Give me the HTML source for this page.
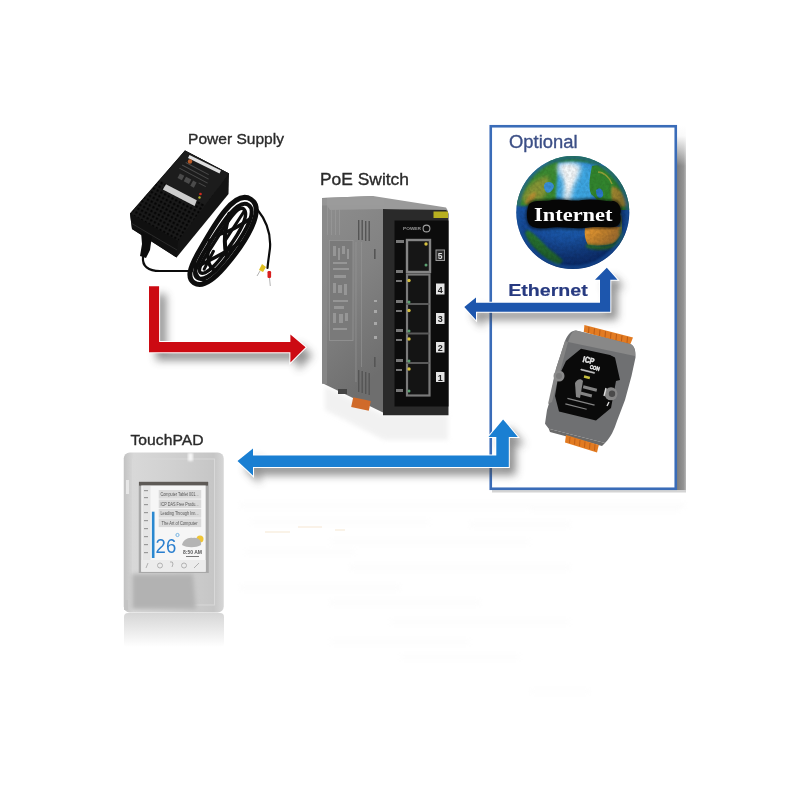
<!DOCTYPE html>
<html><head><meta charset="utf-8">
<style>
html,body{margin:0;padding:0;background:#fff;width:800px;height:800px;overflow:hidden}
svg{display:block}
text{-webkit-font-smoothing:antialiased}
</style></head>
<body>
<svg width="800" height="800" viewBox="0 0 800 800">
<defs>
  <filter id="sh" x="-30%" y="-30%" width="160%" height="160%">
    <feGaussianBlur stdDeviation="4.2"/>
  </filter>
  <filter id="sh2" x="-30%" y="-30%" width="160%" height="160%">
    <feGaussianBlur stdDeviation="2"/>
  </filter>
  <filter id="noise" x="0" y="0" width="100%" height="100%">
    <feTurbulence type="fractalNoise" baseFrequency="0.35" numOctaves="2" seed="3"/>
    <feColorMatrix values="0 0 0 0 0  0 0 0 0 0  0 0 0 0 0  0 0 0 -1.6 1.1"/>
  </filter>
  <filter id="b05"><feGaussianBlur stdDeviation="0.5"/></filter>
  <filter id="b1" x="-20%" y="-20%" width="140%" height="140%"><feGaussianBlur stdDeviation="1"/></filter>
  <filter id="b2" x="-20%" y="-20%" width="140%" height="140%"><feGaussianBlur stdDeviation="2"/></filter>
  <linearGradient id="boxsh" x1="0" y1="0" x2="0" y2="1">
    <stop offset="0" stop-color="#fff"/>
    <stop offset="0.03" stop-color="#f0f0f0"/>
    <stop offset="0.1" stop-color="#8c8c8c"/>
    <stop offset="1" stop-color="#8a8a8a"/>
  </linearGradient>
  <linearGradient id="boxshx" x1="0" y1="0" x2="1" y2="0">
    <stop offset="0" stop-color="#7c7c7c"/>
    <stop offset="0.75" stop-color="#959595"/>
    <stop offset="1" stop-color="#b8b8b8"/>
  </linearGradient>
  <linearGradient id="boxfade" x1="0" y1="0" x2="0" y2="1">
    <stop offset="0" stop-color="#fff" stop-opacity="1"/>
    <stop offset="0.25" stop-color="#fff" stop-opacity="0.95"/>
    <stop offset="1" stop-color="#fff" stop-opacity="0"/>
  </linearGradient>
  <radialGradient id="ocean" cx="0.5" cy="0.22" r="0.85">
    <stop offset="0" stop-color="#4aaee6"/>
    <stop offset="0.3" stop-color="#2a7ccc"/>
    <stop offset="0.55" stop-color="#1a56a6"/>
    <stop offset="0.85" stop-color="#123c88"/>
    <stop offset="1" stop-color="#0a2460"/>
  </radialGradient>
  <radialGradient id="gshade" cx="0.4" cy="0.3" r="0.8">
    <stop offset="0.55" stop-color="#000" stop-opacity="0"/>
    <stop offset="1" stop-color="#001040" stop-opacity="0.55"/>
  </radialGradient>
  <clipPath id="gclip"><circle cx="572.8" cy="212.6" r="56.5"/></clipPath>
  <linearGradient id="tpref" x1="0" y1="0" x2="0" y2="1">
    <stop offset="0" stop-color="#d6d6d6"/>
    <stop offset="0.5" stop-color="#eaeaea"/>
    <stop offset="1" stop-color="#fff"/>
  </linearGradient>
  <linearGradient id="tpad" x1="0" y1="0" x2="1" y2="0">
    <stop offset="0" stop-color="#c2c2c2"/>
    <stop offset="0.1" stop-color="#d8d8d8"/>
    <stop offset="0.5" stop-color="#d0d0d0"/>
    <stop offset="0.9" stop-color="#c6c6c6"/>
    <stop offset="1" stop-color="#d6d6d6"/>
  </linearGradient>
  <linearGradient id="swside" x1="0" y1="0" x2="0.3" y2="1">
    <stop offset="0" stop-color="#8e8e8e"/>
    <stop offset="0.5" stop-color="#828282"/>
    <stop offset="1" stop-color="#6e6e6e"/>
  </linearGradient>
  <pattern id="vents" width="4.2" height="4.2" patternUnits="userSpaceOnUse" patternTransform="rotate(28)">
    <rect width="4.2" height="4.2" fill="#1a1a1a"/>
    <rect x="0.6" y="0.6" width="2.4" height="2.4" fill="#050505"/>
  </pattern>
</defs>

<rect width="800" height="800" fill="#fff"/>

<!-- ghost reflections -->
<g fill="#ededed" filter="url(#b2)" opacity="0.16">
  <rect x="240" y="503" width="445" height="5"/>
  <rect x="250" y="520" width="180" height="4"/>
  <rect x="470" y="522" width="100" height="5"/>
  <rect x="245" y="550" width="110" height="4"/>
  <rect x="330" y="540" width="200" height="4"/>
  <rect x="350" y="565" width="220" height="5"/>
  <rect x="240" y="585" width="160" height="5"/>
  <rect x="330" y="600" width="150" height="5"/>
  <rect x="390" y="620" width="180" height="4"/>
  <rect x="330" y="640" width="140" height="4"/>
  <rect x="400" y="655" width="120" height="4"/>
  <rect x="530" y="690" width="60" height="3"/>
  <rect x="530" y="505" width="150" height="6"/>
</g>
<g stroke="#f2dcc0" stroke-width="1.2" opacity="0.6" filter="url(#b05)">
  <line x1="265" y1="532" x2="290" y2="532"/><line x1="298" y1="527" x2="322" y2="527"/><line x1="335" y1="530" x2="345" y2="530"/>
</g>

<!-- ===== Optional box ===== -->
<rect x="677" y="126" width="9" height="366" fill="url(#boxshx)"/><rect x="677" y="126" width="9" height="40" fill="url(#boxfade)"/>
<rect x="492" y="490" width="194" height="2.5" fill="#d4d4d4"/>
<rect x="490.75" y="126.25" width="185" height="362.5" fill="none" stroke="#3a6cb8" stroke-width="2.6"/>

<!-- labels -->
<g font-family="Liberation Sans, sans-serif" fill="#2a2a2a" stroke="#2a2a2a" stroke-width="0.35" opacity="0.999">
  <text x="188" y="144" font-size="15.5" textLength="96" lengthAdjust="spacingAndGlyphs">Power Supply</text>
  <text x="320" y="185.3" font-size="17" textLength="89" lengthAdjust="spacingAndGlyphs">PoE Switch</text>
  <text x="130.5" y="445.3" font-size="15.2" textLength="73" lengthAdjust="spacingAndGlyphs">TouchPAD</text>
  <text x="509" y="148" font-size="18" fill="#3c4f86" stroke="#3c4f86" textLength="68.5" lengthAdjust="spacingAndGlyphs">Optional</text>
  <text x="508.2" y="296" font-size="17.3" font-weight="bold" fill="#273a80" stroke="#273a80" stroke-width="0.2" textLength="79.5" lengthAdjust="spacingAndGlyphs">Ethernet</text>
</g>

<!-- ===== Globe ===== -->
<g>
  <circle cx="572.8" cy="212.6" r="56.5" fill="url(#ocean)"/>
  <g clip-path="url(#gclip)">
    <!-- light ocean north atlantic -->
    <path d="M548 180 C555 165 575 160 592 168 C594 185 592 200 590 205 L548 205 Z" fill="#3ea6e2" filter="url(#b2)"/>
    <!-- north america -->
    <path d="M512 215 C516 190 530 172 548 162 C552 160 556 160 558 162 C558 172 556 185 556 200 L556 206 L512 206 Z" fill="#3a8a30" filter="url(#b1)"/>
    <path d="M520 200 C526 186 536 178 548 176 C550 184 548 192 542 200 Z" fill="#a89a38" opacity="0.7" filter="url(#b2)"/>
    <path d="M524 203 C528 196 532 192 536 192 C536 198 532 203 528 205 Z" fill="#c88a30" opacity="0.7" filter="url(#b1)"/>
    <path d="M545 183 C549 181 553 182 554 186 C553 191 549 194 546 192 C544 189 543 186 545 183 Z" fill="#3a90d8" filter="url(#b05)"/>
    <!-- greenland ice -->
    <path d="M558 164 C566 160 576 161 581 166 C581 174 577 180 574 186 C572 192 572 198 569 203 C566 205 563 203 563 198 C563 190 565 184 562 178 C558 173 556 168 558 164 Z" fill="#d4e8f4" filter="url(#b2)"/>
    <path d="M562 167 C568 164 575 166 577 170 C575 178 571 186 568 194 C566 188 566 180 562 167 Z" fill="#f4f8fa" filter="url(#b1)"/>
    <!-- top rim land -->
    <path d="M545 158 C560 152 585 152 605 160 L600 166 C585 160 565 160 550 164 Z" fill="#2f8030" filter="url(#b1)"/>
    <!-- europe -->
    <path d="M592 166 C605 162 620 172 628 186 C632 194 634 204 632 210 L604 210 C600 204 596 198 591 194 C588 186 590 176 592 166 Z" fill="#33852f" filter="url(#b05)"/>
    <path d="M596 190 C600 186 604 190 603 196 C600 200 596 198 596 190 Z" fill="#2a78c8" filter="url(#b05)"/>
    <path d="M612 186 C620 188 626 196 628 206 L614 208 C612 200 610 194 612 186 Z" fill="#c08a30" opacity="0.8" filter="url(#b1)"/>
    <path d="M598 172 C604 172 610 178 612 184" stroke="#c0b040" stroke-width="1.5" fill="none" opacity="0.7" filter="url(#b05)"/>
    <!-- africa -->
    <path d="M585 228 C596 226 610 226 622 227 C622 235 618 241 612 244 C604 246 594 246 588 245 C585 240 584 234 585 228 Z" fill="#e09530" filter="url(#b05)"/>
    <path d="M586 244 C596 246 606 246 614 243 C618 240 620 236 622 230 L624 236 C620 246 612 250 600 250 C594 250 588 249 586 247 Z" fill="#2f7a30" filter="url(#b1)"/>
    <path d="M618 214 C622 220 622 228 620 234" stroke="#6a8a38" stroke-width="3" fill="none" filter="url(#b1)"/>
    <!-- south america -->
    <path d="M527 230 C533 232 540 240 548 248 C554 253 560 257 563 261 L558 266 C550 262 542 256 534 248 C530 244 526 238 525 233 Z" fill="#2a7a32" filter="url(#b1)"/>
    <rect x="515" y="155" width="116" height="116" filter="url(#noise)" opacity="0.14"/>
    <circle cx="572.8" cy="212.6" r="56.5" fill="url(#gshade)"/>
    <circle cx="572.8" cy="212.6" r="55" fill="none" stroke="#1a5aa8" stroke-width="4" opacity="0.55" filter="url(#b1)"/>
  </g>
</g>
<g>
  <path d="M529 204 C535 199 545 202 552 200 C562 198 572 202 582 200 C595 198 606 202 614 201 C620 203 622 210 620 214 C622 220 620 226 614 227 C604 228 594 226 584 228 C572 229 560 226 548 228 C538 229 530 228 528 222 C526 216 527 209 529 204 Z" fill="#000" opacity="0.5" filter="url(#b1)" transform="translate(573 214) scale(1.03 1.12) translate(-573 -214)"/>
  <path d="M529 204 C535 199 545 202 552 200 C562 198 572 202 582 200 C595 198 606 202 614 201 C620 203 622 210 620 214 C622 220 620 226 614 227 C604 228 594 226 584 228 C572 229 560 226 548 228 C538 229 530 228 528 222 C526 216 527 209 529 204 Z" fill="#060606"/>
  <text opacity="0.999" x="534" y="220.6" font-family="Liberation Serif, serif" font-weight="bold" font-size="18.5" fill="#fff" textLength="78.5" lengthAdjust="spacingAndGlyphs">Internet</text>
</g>

<!-- ===== Arrows ===== -->
<!-- red -->
<g>
  <path d="M149 286.2 L159.1 286.2 L159.1 342 L290.4 342 L290.4 334.5 L305.6 347.2 L290.4 362.6 L290.4 352.2 L149 352.2 Z" transform="translate(7 8)" fill="#444" opacity="0.6" filter="url(#sh)"/>
  <path d="M149 286.2 L159.1 286.2 L159.1 342 L290.4 342 L290.4 334.5 L305.6 347.2 L290.4 362.6 L290.4 352.2 L149 352.2 Z" fill="#cc0a12" stroke="#fff" stroke-width="2" paint-order="stroke"/>
</g>
<!-- blue bottom -->
<g>
  <path d="M237.5 461 L253 448.5 L253 455.5 L496.3 455.5 L496.3 436.9 L488.5 436.9 L503.1 419.4 L517.8 436.9 L508.8 436.9 L508.8 467 L253 467 L253 475.6 Z" transform="translate(7 8)" fill="#444" opacity="0.6" filter="url(#sh)"/>
  <path d="M237.5 461 L253 448.5 L253 455.5 L496.3 455.5 L496.3 436.9 L488.5 436.9 L503.1 419.4 L517.8 436.9 L508.8 436.9 L508.8 467 L253 467 L253 475.6 Z" fill="#1a7fd2" stroke="#fff" stroke-width="2" paint-order="stroke"/>
</g>
<!-- ethernet -->
<g>
  <path d="M464.3 307 L476 297.5 L476 302.7 L600 302.7 L600 279.7 L595 279.7 L606.8 267.8 L617.5 279.7 L610.3 279.7 L610.3 311.8 L476 311.8 L476 320 Z" transform="translate(7 8)" fill="#444" opacity="0.6" filter="url(#sh)"/>
  <path d="M464.3 307 L476 297.5 L476 302.7 L600 302.7 L600 279.7 L595 279.7 L606.8 267.8 L617.5 279.7 L610.3 279.7 L610.3 311.8 L476 311.8 L476 320 Z" fill="#1d56ad" stroke="#fff" stroke-width="2" paint-order="stroke"/>
</g>

<!-- ===== PoE switch ===== -->
<path d="M325 386 L384 415 L448 415 L448 440 L384 440 L325 410 Z" fill="#e4e4e4" opacity="0.5" filter="url(#b2)"/>
<g>
  <path d="M322 198 L373 196 L384 209 L384 413 L322 383 Z" fill="url(#swside)"/>
  <path d="M322 198 L373 196 L446 207.5 L448 211 L383 209 L330 210 Z" fill="#9a9a9a"/>
  <rect x="322" y="198" width="5" height="186" fill="#8a8a8a" opacity="0.8"/>
  <rect x="322" y="198.5" width="62" height="7" fill="#9c9c9c" opacity="0.6"/>
  <rect x="329.5" y="240.5" width="23.5" height="100" fill="#7a7a7a" stroke="#959595" stroke-width="0.8"/>
  <g fill="#9a9a9a" opacity="0.9">
    <rect x="333" y="246" width="3" height="10"/><rect x="338" y="248" width="2" height="12"/><rect x="342" y="246" width="3" height="8"/><rect x="347" y="249" width="2" height="10"/>
    <rect x="333" y="262" width="14" height="2"/><rect x="333" y="268" width="16" height="2"/><rect x="334" y="275" width="12" height="3"/>
    <rect x="333" y="283" width="3" height="10"/><rect x="338" y="285" width="4" height="8"/><rect x="344" y="284" width="3" height="11"/>
    <rect x="333" y="300" width="15" height="2"/><rect x="334" y="306" width="10" height="3"/><rect x="333" y="313" width="3" height="10"/><rect x="339" y="314" width="4" height="9"/><rect x="345" y="313" width="3" height="8"/>
    <rect x="333" y="328" width="14" height="2"/>
  </g>
  <g fill="#9a9a9a" opacity="0.7"><rect x="327" y="205" width="1" height="30"/><rect x="331" y="205" width="1" height="30"/><rect x="335" y="205" width="1" height="30"/><rect x="339" y="205" width="1" height="30"/></g>
  <rect x="355.5" y="242" width="0.9" height="140" fill="#999" opacity="0.7"/>
  <rect x="361" y="242" width="0.9" height="125" fill="#999" opacity="0.6"/>
  <g fill="#a8a8a8"><rect x="374" y="300" width="3" height="2"/><rect x="374" y="310" width="3" height="3"/><rect x="374" y="322" width="3" height="3"/><rect x="374" y="336" width="3" height="3"/></g>
  <g fill="#555"><rect x="358" y="220" width="1.4" height="20"/><rect x="361.5" y="220" width="1.4" height="20"/><rect x="365" y="221" width="1.4" height="20"/><rect x="368.5" y="221" width="1.4" height="20"/>
  <rect x="358" y="370" width="1.4" height="22"/><rect x="361.5" y="371" width="1.4" height="22"/><rect x="365" y="372" width="1.4" height="22"/><rect x="368.5" y="373" width="1.4" height="22"/>
  <rect x="374" y="249" width="1.6" height="10"/><rect x="374" y="357" width="1.6" height="10"/></g>
  <path d="M383 209 L446 210 Q448.5 211 448.5 214 L448.5 415.3 L383 415.3 Z" fill="#2a2a2a"/>
  <rect x="394.5" y="220.5" width="54" height="186" fill="#0c0c0c"/>
  <rect x="433.5" y="211.5" width="14.5" height="6.5" fill="#b8b020"/>
  <circle cx="426.5" cy="228.5" r="3.4" fill="none" stroke="#a0a0a0" stroke-width="1.1"/>
  <text opacity="0.999" x="403" y="230.3" font-family="Liberation Sans, sans-serif" font-size="4" font-weight="bold" fill="#999" textLength="18" lengthAdjust="spacingAndGlyphs">POWER</text>
  <!-- ports -->
  <rect x="436" y="250" width="8.5" height="10.5" fill="#2e2e2e" stroke="#9a9a9a" stroke-width="1"/>
  <text opacity="0.999" x="440.2" y="258.5" font-family="Liberation Sans, sans-serif" font-size="8.5" font-weight="bold" fill="#ddd" text-anchor="middle">5</text>
  <rect x="407" y="240" width="23" height="32" fill="#161616" stroke="#858585" stroke-width="2.4"/>
  <rect x="407" y="274.5" width="22.5" height="121" fill="#141414" stroke="#7a7a7a" stroke-width="2.2"/>
  <line x1="406" y1="304" x2="429.5" y2="304" stroke="#5a5a5a" stroke-width="2"/>
  <line x1="406" y1="333.5" x2="429.5" y2="333.5" stroke="#5a5a5a" stroke-width="2"/>
  <line x1="406" y1="363" x2="429.5" y2="363" stroke="#5a5a5a" stroke-width="2"/>
  <g fill="#777">
    <rect x="396" y="240" width="8" height="3"/><rect x="396" y="270" width="7" height="3"/>
    <rect x="396" y="280" width="6" height="2"/><rect x="396" y="300" width="7" height="3"/>
    <rect x="396" y="310" width="6" height="2"/><rect x="396" y="329" width="7" height="3"/>
    <rect x="396" y="339" width="6" height="2"/><rect x="396" y="359" width="7" height="3"/>
    <rect x="396" y="369" width="6" height="2"/><rect x="396" y="389" width="7" height="3"/>
  </g>
  <g fill="#e4e4e4">
    <rect x="436" y="283.5" width="8.5" height="11"/>
    <rect x="436" y="313" width="8.5" height="11"/>
    <rect x="436" y="342" width="8.5" height="10.5"/>
    <rect x="436" y="372" width="8.5" height="10"/>
  </g>
  <g font-family="Liberation Sans, sans-serif" font-size="9" font-weight="bold" fill="#222" text-anchor="middle" opacity="0.999">
    <text x="440.2" y="292.5">4</text><text x="440.2" y="322">3</text><text x="440.2" y="351">2</text><text x="440.2" y="380.5">1</text>
  </g>
  <g fill="#d6c040"><circle cx="409" cy="280.5" r="1.7"/><circle cx="409" cy="310.5" r="1.7"/><circle cx="409" cy="339" r="1.7"/><circle cx="409" cy="369" r="1.7"/><circle cx="426" cy="244" r="1.7"/></g>
  <g fill="#5aa070"><circle cx="409" cy="302" r="1.5"/><circle cx="409" cy="331" r="1.5"/><circle cx="409" cy="361" r="1.5"/><circle cx="409" cy="391" r="1.5"/><circle cx="426" cy="265" r="1.5"/></g>
  <rect x="352" y="399" width="18" height="10" fill="#d06a2a" transform="rotate(12 361 404)"/>
  <rect x="338" y="389" width="9" height="5" fill="#444"/>
</g>

<!-- ===== Power supply ===== -->
<g>
  <path d="M185 150.5 L229 173.5 L228.5 194 L176.5 257.5 L132 229 L130 213.5 Z" fill="#141414"/>
  <path d="M185 150.5 L229 173.5 L178 241 L130 213.5 Z" fill="url(#vents)"/>
  <path d="M185 150.5 L229 173.5 L205 205 L160 180 Z" fill="#1c1c1c"/>
  <path d="M189.5 155 L221 170.5 L219.5 173.5 L188 158 Z" fill="#e0e0e0"/>
  <path d="M166 184.3 L196.8 200.3 L194.6 206.1 L162.8 189.6 Z" fill="#cdcdcd"/>
  <g fill="#4a4a4a" transform="rotate(28 190 180)">
    <rect x="178" y="166" width="26" height="1"/><rect x="176" y="170" width="30" height="1"/><rect x="175" y="174" width="32" height="1"/>
    <rect x="178" y="179" width="5" height="5"/><rect x="185" y="179" width="6" height="5"/><rect x="193" y="179" width="4" height="6"/><rect x="199" y="178" width="8" height="1"/>
  </g>
  <circle cx="190" cy="161.5" r="2.2" fill="#b85a28"/>
  <circle cx="200.5" cy="194" r="1.3" fill="#d02a20"/><circle cx="199.5" cy="197.5" r="1.2" fill="#b0b030"/>
  <path d="M132 229 L176.5 257.5 L178 241 L130 213.5 Z" fill="#101010"/>
  <path d="M131 223 L177 250" stroke="#2a2a2a" stroke-width="1"/>
  <!-- plug -->
  <path d="M141 232 L152 236 L150 250 L146 258 L140 256 L142 244 Z" fill="#0c0c0c"/>
  <!-- cable -->
  <g fill="none" stroke="#0c0c0c" stroke-linecap="round">
    <path d="M143 257 C142 266 148 271 160 271 C172 271 182 271 192 271" stroke-width="2.2"/>
  </g>
  <g transform="rotate(33 223 242)" fill="none" stroke="#0d0d0d" stroke-linecap="round">
    <path d="M223 191 C242 191 242 232 238 262 C235 284 229 292 221 292 C213 292 209 284 208 262 C206 230 204 191 223 191 Z" stroke-width="5"/>
    <path d="M224 197 C237 197 237 230 234 258 C232 277 227 286 221 286 C215 286 213 277 212.5 258 C212 230 211 197 224 197 Z" stroke-width="4"/>
    <path d="M222 203 C232 204 232 232 230 255 C229 270 225 280 221 280 C217 280 216 270 216 255 C216 232 214 203 222 203 Z" stroke-width="3.5"/>
    <path d="M213 215 C218 232 226 245 234 252" stroke-width="4"/>
    <path d="M211 248 C216 262 224 272 232 270" stroke-width="3.5"/>
    <path d="M233 208 C227 222 220 234 213 240" stroke-width="3.5"/>
    <path d="M237 234 C231 250 222 264 214 278" stroke-width="3.5"/>
    <path d="M209 272 C214 282 222 288 230 284" stroke-width="3"/>
    <path d="M224 205 L224 240" stroke-width="3"/>
    <path d="M220 255 L222 275" stroke-width="3"/>
  </g>
  <g fill="none" stroke="#0c0c0c" stroke-linecap="round">
    <path d="M257 209 C266 220 271 234 270 248 C269 256 268 262 267.5 268" stroke-width="2.2"/>
  </g>
  <path d="M259 270 L262 264 L266 267 L263 272 Z" fill="#e0c020"/>
  <line x1="260" y1="271" x2="257" y2="276" stroke="#aaa" stroke-width="0.9"/>
  <rect x="267.5" y="271" width="3.6" height="7" rx="1.2" fill="#d82020"/>
  <line x1="269.5" y1="278" x2="270.3" y2="286" stroke="#aaa" stroke-width="0.9"/>
</g>

<!-- ===== PET device ===== -->
<g>
  <path d="M584.4 325 L633 337.5 L630 345 L583.8 332 Z" fill="#e27b22"/>
  <g stroke="#a84c10" stroke-width="0.7"><line x1="589" y1="327" x2="588.5" y2="333"/><line x1="594.5" y1="328.4" x2="594" y2="334.4"/><line x1="600" y1="329.8" x2="599.5" y2="335.8"/><line x1="605.5" y1="331.2" x2="605" y2="337.2"/><line x1="611" y1="332.6" x2="610.5" y2="338.6"/><line x1="616.5" y1="334" x2="616" y2="340"/><line x1="622" y1="335.4" x2="621.5" y2="341.4"/><line x1="627.5" y1="336.8" x2="627" y2="342.8"/></g>
  <path d="M576 330.6 L630 344 C634 345 636 350 635.5 357.5 L631.5 376 L625 400 L617 421 C614 430 611 437 605 443 L548.8 428.8 L545 423.8 L547 410 L550 400 L556 368.8 L565 341 C568 334 571 331 576 330.6 Z" fill="#6f7072"/>
  <path d="M576 330.6 L630 344 C634 345 635.5 350 635 356 L568 342 C570 336 572 331 576 330.6 Z" fill="#888"/>
  <path d="M556 368.8 L565 341 L568 342 L560 372 L552 402 L548 404 Z" fill="#858585"/>
  <path d="M581 348.8 L610 355 L615 357.5 L620 380 L616 381 L611 408 L596 420.5 L559 411.5 L555 396 L558 378 L566 361 Z" fill="#0a0a0a"/>
  <circle cx="559" cy="376" r="5.5" fill="#8a8a8a"/>
  <circle cx="559" cy="376" r="3" fill="#7a7a7a"/>
  <circle cx="611" cy="393.8" r="6.5" fill="#858585"/><circle cx="612" cy="393.8" r="3.2" fill="#4a4a4a"/>
  <path d="M606 388 L604 396" stroke="#ddd" stroke-width="1.4"/>
  <path d="M609 402 L607 406" stroke="#ddd" stroke-width="1.4"/>
  <g fill="#e6e6e6" stroke="#e6e6e6" stroke-width="0.5" font-family="Liberation Sans, sans-serif" font-weight="bold" opacity="0.999" transform="rotate(14 590 362)">
    <text x="582.5" y="363.5" font-size="8.5" textLength="11.5" lengthAdjust="spacingAndGlyphs">ICP</text>
    <text x="591" y="368.5" font-size="5.5" textLength="10" lengthAdjust="spacingAndGlyphs">CON</text>
    <rect x="583" y="371" width="14" height="1" fill="#aaa"/>
  </g>
  <rect x="584" y="376" width="6" height="2.6" fill="#c8c040" transform="rotate(14 587 377)"/>
  <g fill="#9a9a9a" opacity="0.85">
    <path d="M575 383 C577 379 581 378 583 381 L580 398 L576 397 Z"/>
    <rect x="583" y="387" width="14" height="3" transform="rotate(14 590 388.5)"/>
    <rect x="580" y="393" width="12" height="3" transform="rotate(14 586 394.5)"/>
    <rect x="567" y="401" width="28" height="1.4" transform="rotate(14 581 401.7)"/>
    <rect x="565" y="406" width="22" height="1.2" transform="rotate(14 576 406.6)"/>
  </g>
  <path d="M548.8 428.8 L605 443 L602 446 L550 432 Z" fill="#6a6a6a"/>
  <path d="M566 435 L598.8 445 L597 452.5 L565 442.5 Z" fill="#e27b22"/>
  <g stroke="#a84c10" stroke-width="0.6"><line x1="570" y1="437" x2="569.5" y2="443"/><line x1="575" y1="438.5" x2="574.5" y2="444.5"/><line x1="580" y1="440" x2="579.5" y2="446"/><line x1="585" y1="441.5" x2="584.5" y2="447.5"/><line x1="590" y1="443" x2="589.5" y2="449"/><line x1="595" y1="444.5" x2="594.5" y2="450.5"/></g>
</g>

<!-- ===== TouchPAD ===== -->
<g>
  <rect x="124" y="613" width="100" height="34" rx="4" fill="url(#tpref)"/>
  <rect x="123.75" y="452.5" width="100" height="160" rx="6" fill="url(#tpad)"/>
  <rect x="132.5" y="459" width="82" height="146" fill="none" stroke="#d8d8d8" stroke-width="1"/>
  <rect x="126" y="480" width="3" height="14" fill="#e6e6e6" filter="url(#b05)"/>
  <rect x="188" y="453" width="5" height="8" fill="#f6f6f6" filter="url(#b1)"/>
  <path d="M132 574 L193 574 L196 609 L132 609 Z" fill="#b2b2b2" filter="url(#b2)"/><rect x="124" y="600" width="4" height="10" fill="#c4c4c4"/>
  <rect x="138.75" y="482" width="70" height="91" fill="#a8a8a8"/>
  <rect x="139" y="481.8" width="69" height="3.8" fill="#5e5a56"/>
  <rect x="141.25" y="485.5" width="64.4" height="86.2" fill="#f6f6f6"/>
  <rect x="142.5" y="486" width="8" height="74" fill="#e6e6e6"/>
  <g fill="#9a9a9a"><rect x="144" y="490" width="4" height="1.2"/><rect x="144" y="497" width="4" height="1.2"/><rect x="144" y="504" width="4" height="1.2"/><rect x="144" y="512" width="4" height="1.2"/><rect x="144" y="520" width="4" height="1.2"/><rect x="144" y="528" width="4" height="1.2"/><rect x="144" y="536" width="4" height="1.2"/><rect x="144" y="544" width="4" height="1.2"/><rect x="144" y="552" width="4" height="1.2"/></g>
  <rect x="151.9" y="511.7" width="2.6" height="46.3" fill="#2a88d0"/>
  <g fill="#dadada"><rect x="158.7" y="490" width="42.5" height="8.6"/><rect x="158.7" y="499.5" width="42.5" height="8.6"/><rect x="158.7" y="509" width="42.5" height="8.6"/><rect x="158.7" y="518.5" width="42.5" height="8.6"/></g>
  <g font-family="Liberation Sans, sans-serif" font-size="4.6" fill="#555" opacity="0.999">
    <text x="160.5" y="496" textLength="38" lengthAdjust="spacingAndGlyphs">Computer Tablet 001...</text>
    <text x="160.5" y="505.5" textLength="38" lengthAdjust="spacingAndGlyphs">ICP DAS Free Produ...</text>
    <text x="160.5" y="515" textLength="38" lengthAdjust="spacingAndGlyphs">Leading Through Inn...</text>
    <text x="161.5" y="524.5" textLength="36" lengthAdjust="spacingAndGlyphs">The Art of Computer</text>
  </g>
  <text opacity="0.999" x="155.6" y="553" font-family="Liberation Sans, sans-serif" font-size="20.5" fill="#2a7fcf" textLength="20.6" lengthAdjust="spacingAndGlyphs">26</text>
  <circle cx="177.5" cy="535" r="1.6" fill="none" stroke="#6aaee0" stroke-width="0.9"/>
  <circle cx="200" cy="539" r="3.5" fill="#f0c020" opacity="0.9"/>
  <path d="M182 545 C183 540 188 537 193 538 C198 537 202 541 201 545 C196 548 187 548 182 545 Z" fill="#b4b4b4"/>
  <text x="183" y="554" font-family="Liberation Sans, sans-serif" font-size="5.5" font-weight="bold" fill="#555" textLength="19" lengthAdjust="spacingAndGlyphs" opacity="0.999">8:50 AM</text><rect x="186" y="556" width="13" height="1" fill="#777"/>
  <rect x="141.25" y="560" width="64.4" height="11.7" fill="#ececec"/>
  <g fill="none" stroke="#aaa" stroke-width="0.9"><circle cx="160" cy="565.5" r="2.5"/><path d="M170 562 Q173 561 173 564 L172 567"/><circle cx="184" cy="565.5" r="2.5"/><path d="M194 568 L199 563"/><path d="M146 568 L148 563"/></g>
</g>

</svg>
</body></html>
